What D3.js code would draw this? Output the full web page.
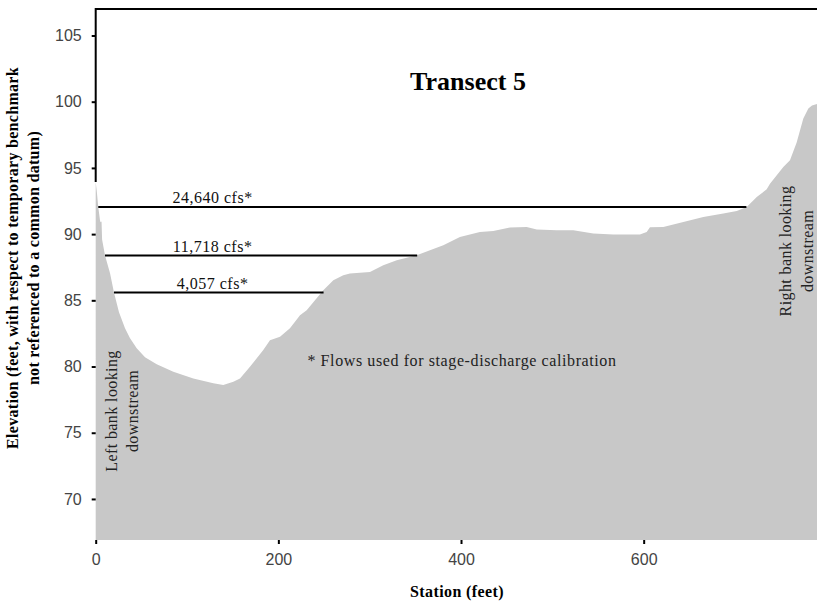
<!DOCTYPE html>
<html>
<head>
<meta charset="utf-8">
<script src="https://cdn.jsdelivr.net/npm/d3@7"></script>
<style>
  html, body { margin: 0; padding: 0; background: #fff; }
  svg { display: block; }
</style>
</head>
<body>
<svg id="transect-chart" width="817" height="605"></svg>
<script>
// 단면 측량 데이터 (station ft, elevation ft)
const station = [0, 1.1, 2.8, 4.7, 5.3, 6.4, 7.0, 10.2, 15.7, 20.0, 25.5, 32.1, 37.6, 44.9, 54.0, 66.8,
  85.0, 106.9, 128.8, 139.7, 150.7, 158.0, 168.9, 183.5, 190.8, 201.8, 212.7, 223.7, 231.0, 249.2,
  260.2, 271.1, 278.4, 300.3, 314.9, 329.6, 351.5, 366.0, 380.6, 398.8, 420.7, 435.3, 453.5, 471.9,
  482.9, 504.8, 523.0, 544.8, 566.7, 595.9, 603.3, 606.9, 621.5, 643.4, 665.3, 687.2, 701.9, 712.8,
  723.8, 734.7, 738.3, 752.9, 760.2, 767.5, 774.8, 780.3, 784.3, 790];
const elevation = [93.93, 93.30, 92.04, 91.04, 90.90, 90.95, 89.60, 88.38, 87.04, 85.59, 84.10, 82.90, 82.14, 81.39, 80.71, 80.18,
  79.60, 79.10, 78.73, 78.60, 78.85, 79.10, 79.98, 81.24, 81.99, 82.24, 82.90, 83.88, 84.25, 85.76,
  86.52, 86.89, 87.02, 87.14, 87.65, 88.02, 88.40, 88.78, 89.16, 89.78, 90.16, 90.23, 90.49, 90.54,
  90.34, 90.29, 90.29, 90.04, 89.98, 89.98, 90.16, 90.51, 90.54, 90.91, 91.29, 91.55, 91.74, 92.04,
  92.80, 93.38, 93.81, 95.06, 95.57, 96.92, 98.73, 99.49, 99.71, 99.84];

// 보정에 사용된 유량 (수위선)
const flowLabels = ["24,640 cfs*", "11,718 cfs*", "4,057 cfs*"];
const flowStage = [92.04, 88.38, 85.59];
const flowStart = [2.8, 10.2, 20.0];
const flowEnd = [712.5, 352.0, 249.5];

// 축 눈금
const xTicks = [0, 200, 400, 600];
const yTicks = [70, 75, 80, 85, 90, 95, 100, 105];

const data = station.map((s, i) => ({ station: s, elevation: elevation[i] }));

// 스케일
const x = d3.scaleLinear().domain([0, 790]).range([95.7, 817.2]);
const y = d3.scaleLinear().domain([66.9, 107]).range([540, 9]);

const svg = d3.select("#transect-chart");
const serif = "'Liberation Serif', 'Times New Roman', serif";
const sans = "'Liberation Sans', Arial, sans-serif";

// 플롯 테두리 (위, 왼쪽만 보임)
svg.append("path")
    .attr("d", `M${x(0)},${y(elevation[0])}V${y(107)}H${x(790) + 5}`)
    .attr("fill", "none")
    .attr("stroke", "#000")
    .attr("stroke-width", 2);

// 단면 영역
const area = d3.area()
    .x(d => x(d.station))
    .y0(y(66.9))
    .y1(d => y(d.elevation));

svg.append("path")
    .datum(data)
    .attr("fill", "#c8c8c8")
    .attr("d", area);

// 수위선과 라벨
const labelStation = 128;
flowLabels.forEach((label, i) => {
    svg.append("line")
        .attr("x1", x(flowStart[i]))
        .attr("x2", x(flowEnd[i]))
        .attr("y1", y(flowStage[i]))
        .attr("y2", y(flowStage[i]))
        .attr("stroke", "#000")
        .attr("stroke-width", 2);

    svg.append("text")
        .attr("x", x(labelStation))
        .attr("y", y(flowStage[i]) - 4)
        .attr("text-anchor", "middle")
        .style("font-family", serif)
        .style("font-size", "16px")
        .style("letter-spacing", "0.5px")
        .style("fill", "#111")
        .text(label);
});

// x축
const xAxis = svg.append("g")
    .attr("transform", `translate(0,${y(66.9)})`)
    .call(d3.axisBottom(x).tickValues(xTicks).tickSize(4).tickPadding(10).tickFormat(d3.format("d")));
xAxis.select(".domain").remove();
xAxis.selectAll("line").attr("stroke", "#000").attr("stroke-width", 2);
xAxis.selectAll("text")
    .style("font-family", sans)
    .style("font-size", "16px")
    .style("fill", "#444");

// y축
const yAxis = svg.append("g")
    .attr("transform", `translate(${x(0)},0)`)
    .call(d3.axisLeft(y).tickValues(yTicks).tickSize(4).tickPadding(10).tickFormat(d3.format("d")));
yAxis.select(".domain").remove();
yAxis.selectAll("line").attr("stroke", "#000").attr("stroke-width", 2);
yAxis.selectAll("text")
    .style("font-family", sans)
    .style("font-size", "16px")
    .style("fill", "#444");

// 제목
svg.append("text")
    .attr("x", 468)
    .attr("y", 90)
    .attr("text-anchor", "middle")
    .style("font-family", serif)
    .style("font-weight", "bold")
    .style("font-size", "26px")
    .text("Transect 5");

// 주석
svg.append("text")
    .attr("x", 462)
    .attr("y", 366)
    .attr("text-anchor", "middle")
    .style("font-family", serif)
    .style("font-size", "16px")
    .style("letter-spacing", "0.6px")
    .style("fill", "#222")
    .text("* Flows used for stage-discharge calibration");

// 강둑 라벨 (세로)
function bankLabel(lines, bx, cy, gap) {
    const t = svg.append("text")
        .attr("transform", `translate(${bx},${cy}) rotate(-90)`)
        .attr("text-anchor", "middle")
        .style("font-family", serif)
        .style("font-size", "16px")
        .style("letter-spacing", "0.4px")
        .style("fill", "#222");
    lines.forEach((line, i) => {
        t.append("tspan").attr("x", 0).attr("y", i * gap).text(line);
    });
}
bankLabel(["Left bank looking", "downstream"], 117, 411, 21);
bankLabel(["Right bank looking", "downstream"], 791, 251, 22);

// 축 제목
svg.append("text")
    .attr("x", 457)
    .attr("y", 597)
    .attr("text-anchor", "middle")
    .style("font-family", serif)
    .style("font-weight", "bold")
    .style("font-size", "16px")
    .style("letter-spacing", "0.4px")
    .text("Station (feet)");

const yTitle = svg.append("text")
    .attr("transform", "translate(18,258) rotate(-90)")
    .attr("text-anchor", "middle")
    .style("font-family", serif)
    .style("font-weight", "bold")
    .style("font-size", "16px")
    .style("letter-spacing", "0.3px");
yTitle.append("tspan").attr("x", 0).attr("y", 0).text("Elevation (feet, with respect to temporary benchmark");
yTitle.append("tspan").attr("x", 0).attr("y", 21).text("not referenced to a common datum)");
</script>
</body>
</html>
